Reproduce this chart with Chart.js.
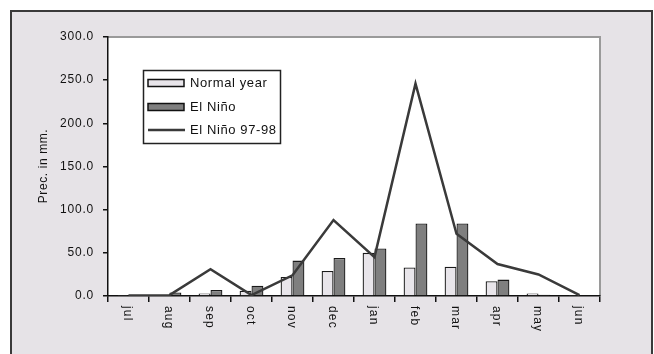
<!DOCTYPE html>
<html>
<head>
<meta charset="utf-8">
<script src="https://cdn.jsdelivr.net/npm/chart.js@4/dist/chart.umd.min.js"></script>
<style>
  html, body { margin: 0; padding: 0; background: #fff; }
  #wrap { width: 654px; height: 354px; }
</style>
</head>
<body>
<div id="wrap"><canvas id="rainChart" width="654" height="354"></canvas></div>
<script>
// monthly precipitation (mm)
const months = ['jul', 'aug', 'sep', 'oct', 'nov', 'dec', 'jan', 'feb', 'mar', 'apr', 'may', 'jun'];
const normalYear = [0.5, 0.5, 3, 6, 22, 29, 50, 33, 34, 17, 3, 0.5];
const elNino = [0.5, 4, 7, 12, 41, 44, 55, 84, 84, 19, 1.5, 1];
const elNino9798 = [0.5, 1, 31, 1, 24, 88, 45, 246, 72, 37, 25, 1];
const yTicks = [0, 50, 100, 150, 200, 250, 300];

const FONT = '"Liberation Sans", Arial, sans-serif';

// background panel, plot frame and rotated month labels
const framePlugin = {
    id: 'frame',
    beforeDraw(chart) {
        const ctx = chart.ctx;
        const a = chart.chartArea;
        ctx.save();
        ctx.fillStyle = '#ffffff';
        ctx.fillRect(0, 0, chart.width, chart.height);
        ctx.fillStyle = '#e6e3e7';
        ctx.fillRect(10, 10, 642, 350);
        ctx.strokeStyle = '#3a3a3a';
        ctx.lineWidth = 2;
        ctx.strokeRect(11, 11, 641, 360);
        ctx.fillStyle = '#ffffff';
        ctx.fillRect(a.left, a.top, a.right - a.left, a.bottom - a.top);
        ctx.strokeStyle = '#9a9a9a';
        ctx.lineWidth = 2;
        ctx.beginPath();
        ctx.moveTo(a.left, a.top);
        ctx.lineTo(a.right, a.top);
        ctx.lineTo(a.right, a.bottom);
        ctx.stroke();
        ctx.restore();
        ctx.letterSpacing = '0.8px';
    },
    afterDraw(chart) {
        const ctx = chart.ctx;
        const x = chart.scales.x;
        const a = chart.chartArea;
        ctx.save();
        ctx.fillStyle = '#111';
        ctx.font = '12px ' + FONT;
        ctx.letterSpacing = '1.2px';
        ctx.textAlign = 'left';
        ctx.textBaseline = 'middle';
        months.forEach((m, i) => {
            ctx.save();
            ctx.translate(x.getPixelForTick(i) - 1, a.bottom + 10);
            ctx.rotate(Math.PI / 2);
            ctx.fillText(m, 0, 0);
            ctx.restore();
        });

        // y title
        ctx.save();
        ctx.font = '12px ' + FONT;
        ctx.letterSpacing = '0.6px';
        ctx.textAlign = 'center';
        ctx.translate(44, 166);
        ctx.rotate(-Math.PI / 2);
        ctx.fillText('Prec. in mm.', 0, 0);
        ctx.restore();

        // legend box
        ctx.fillStyle = '#ffffff';
        ctx.fillRect(143, 70, 138, 74);
        ctx.strokeStyle = '#222';
        ctx.lineWidth = 1.5;
        ctx.strokeRect(143.5, 70.5, 137, 73);
        const ds = chart.data.datasets;
        const rows = [83, 107, 130];
        ds.forEach((d, i) => {
            const y = rows[i];
            if (d.type === 'line') {
                ctx.strokeStyle = d.borderColor;
                ctx.lineWidth = d.borderWidth;
                ctx.beginPath();
                ctx.moveTo(148, y);
                ctx.lineTo(185, y);
                ctx.stroke();
            } else {
                ctx.fillStyle = d.backgroundColor;
                ctx.fillRect(148, y - 3.5, 36, 7);
                ctx.strokeStyle = '#111';
                ctx.lineWidth = 1.5;
                ctx.strokeRect(148, y - 3.5, 36, 7);
            }
            ctx.fillStyle = '#111';
            ctx.font = '13px ' + FONT;
            ctx.letterSpacing = '0.6px';
            ctx.textAlign = 'left';
            ctx.textBaseline = 'middle';
            ctx.fillText(d.label, 190, y);
        });
        ctx.restore();
    }
};

new Chart(document.getElementById('rainChart'), {
    data: {
        labels: months,
        datasets: [{
            type: 'bar',
            label: 'Normal year',
            data: normalYear,
            backgroundColor: '#e8e5ea',
            borderColor: '#1a1a1a',
            borderWidth: 1.3,
            categoryPercentage: 0.58,
            barPercentage: 1.0,
            order: 2
        }, {
            type: 'bar',
            label: 'El Niño',
            data: elNino,
            backgroundColor: '#7f7f7f',
            borderColor: '#1a1a1a',
            borderWidth: 1.3,
            categoryPercentage: 0.58,
            barPercentage: 1.0,
            order: 2
        }, {
            type: 'line',
            label: 'El Niño 97-98',
            data: elNino9798,
            borderColor: '#3a3a3a',
            borderWidth: 2.5,
            pointRadius: 0,
            tension: 0,
            order: 1
        }]
    },
    options: {
        responsive: false,
        animation: false,
        layout: { padding: { top: 37, right: 54, left: 0, bottom: 0 } },
        plugins: {
            legend: { display: false },
            tooltip: { enabled: false }
        },
        scales: {
            x: {
                offset: true,
                grid: {
                    offset: true,
                    drawOnChartArea: false,
                    drawTicks: true,
                    tickLength: 6,
                    color: '#111',
                    lineWidth: 1.5
                },
                border: { display: true, color: '#111', width: 1.5 },
                ticks: { display: false },
                afterFit(scale) { scale.height = 58; }
            },
            y: {
                min: 0,
                max: 300,
                afterBuildTicks(scale) { scale.ticks = yTicks.map(v => ({ value: v })); },
                grid: {
                    drawOnChartArea: false,
                    drawTicks: true,
                    tickLength: 5,
                    color: '#111',
                    lineWidth: 1.5
                },
                border: { display: true, color: '#111', width: 1.5 },
                ticks: {
                    color: '#111',
                    padding: 9,
                    font: { family: FONT, size: 12 },
                    callback: v => v.toFixed(1)
                },
                afterFit(scale) { scale.width = 108; }
            }
        }
    },
    plugins: [framePlugin]
});
</script>
</body>
</html>
